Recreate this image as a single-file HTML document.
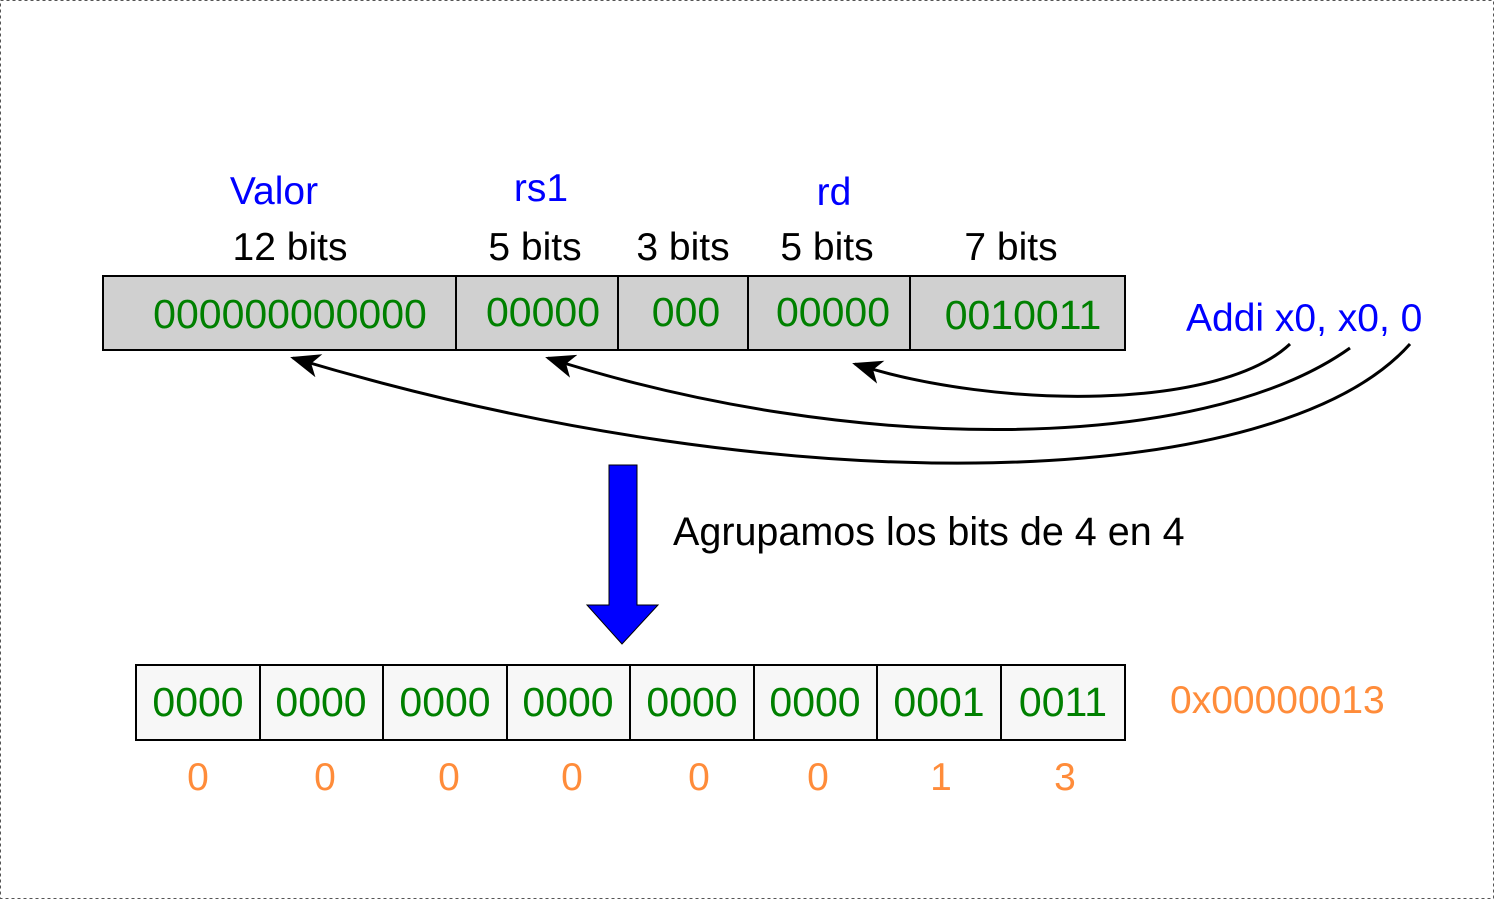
<!DOCTYPE html>
<html><head><meta charset="utf-8"><style>
html,body{margin:0;padding:0;background:#fff;}
svg{display:block;}
text{font-family:"Liberation Sans","DejaVu Sans",sans-serif;}
</style></head><body>
<svg width="1494" height="899" viewBox="0 0 1494 899" xmlns="http://www.w3.org/2000/svg">
<defs>
<marker id="ah2" markerWidth="30" markerHeight="24" refX="27" refY="12" orient="auto" markerUnits="userSpaceOnUse" viewBox="0 0 30 24">
<path d="M30,12 L0,0 L8,12 L0,24 Z" fill="#000"/>
</marker>
</defs>
<rect x="0.5" y="0.5" width="1493" height="898" fill="#fff" stroke="#555" stroke-dasharray="3,3"/>
<rect x="103" y="276" width="1022" height="74" fill="#d0d0d0" stroke="#000" stroke-width="2"/>
<g stroke="#000" stroke-width="2"><line x1="456" y1="276" x2="456" y2="350"/><line x1="618" y1="276" x2="618" y2="350"/><line x1="748" y1="276" x2="748" y2="350"/><line x1="910" y1="276" x2="910" y2="350"/></g>
<g fill="#008000" font-size="41" text-anchor="middle">
<text x="290" y="328">000000000000</text>
<text x="543" y="326">00000</text>
<text x="686" y="326">000</text>
<text x="833" y="326">00000</text>
<text x="1023" y="329">0010011</text>
</g>
<g fill="#0000ff" font-size="39" text-anchor="middle">
<text x="274" y="204">Valor</text>
<text x="541" y="201">rs1</text>
<text x="834" y="205">rd</text>
</g>
<g fill="#000" font-size="39" text-anchor="middle">
<text x="290" y="260">12 bits</text>
<text x="535" y="260">5 bits</text>
<text x="683" y="260">3 bits</text>
<text x="827" y="260">5 bits</text>
<text x="1011" y="260">7 bits</text>
</g>
<text x="1186" y="331" fill="#0000ff" font-size="39">Addi x0, x0, 0</text>
<g fill="none" stroke="#000" stroke-width="3">
<path d="M1290,344 C1220,410 1000,410 855,364" marker-end="url(#ah2)"/>
<path d="M1350,348 C1200,455 850,455 548,358" marker-end="url(#ah2)"/>
<path d="M1410,344 C1280,490 800,510 293,358" marker-end="url(#ah2)"/>
</g>
<path d="M609,465 L637,465 L637,605 L658,605 L622,644 L587,605 L609,605 Z" fill="#0000ff" stroke="#000" stroke-width="1"/>
<text x="673" y="545" fill="#000" font-size="39.5">Agrupamos los bits de 4 en 4</text>
<rect x="136" y="665" width="989" height="75" fill="#f7f7f7" stroke="#000" stroke-width="2"/>
<g stroke="#000" stroke-width="2">
<line x1="260" y1="665" x2="260" y2="740"/><line x1="383" y1="665" x2="383" y2="740"/><line x1="507" y1="665" x2="507" y2="740"/><line x1="630" y1="665" x2="630" y2="740"/><line x1="754" y1="665" x2="754" y2="740"/><line x1="877" y1="665" x2="877" y2="740"/><line x1="1001" y1="665" x2="1001" y2="740"/>
</g>
<g fill="#008000" font-size="41" text-anchor="middle">
<text x="198" y="716">0000</text><text x="321" y="716">0000</text><text x="445" y="716">0000</text><text x="568" y="716">0000</text><text x="692" y="716">0000</text><text x="815" y="716">0000</text><text x="939" y="716">0001</text><text x="1063" y="716">0011</text>
</g>
<text x="1170" y="713" fill="#ff8c3a" font-size="39">0x00000013</text>
<g fill="#ff8c3a" font-size="39" text-anchor="middle">
<text x="198" y="790">0</text><text x="325" y="790">0</text><text x="449" y="790">0</text><text x="572" y="790">0</text><text x="699" y="790">0</text><text x="818" y="790">0</text><text x="941" y="790">1</text><text x="1065" y="790">3</text>
</g>
</svg>
</body></html>
